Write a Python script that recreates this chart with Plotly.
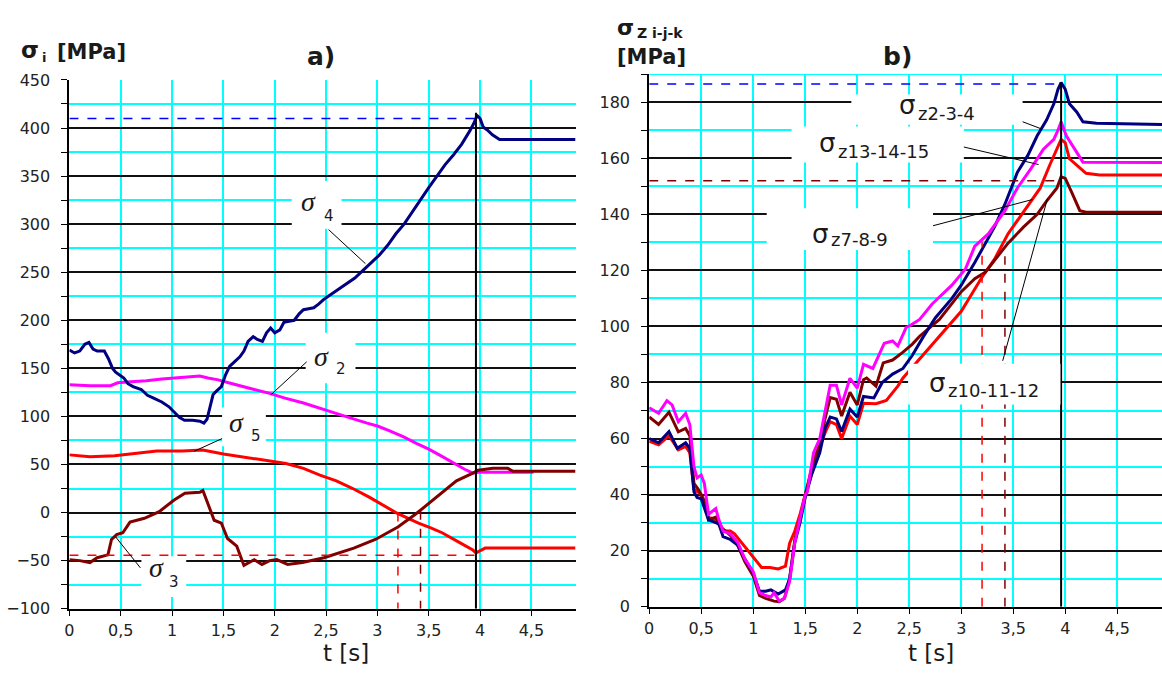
import plotly.graph_objects as go

W, H = 1162, 677

# ---------------- chart a) data ----------------
t_a4 = [0, 0.05, 0.1, 0.15, 0.19, 0.23, 0.27, 0.34, 0.38, 0.42, 0.45, 0.5, 0.53, 0.57, 0.62, 0.7, 0.76,
        0.82, 0.9, 0.97, 1.03, 1.07, 1.12, 1.2, 1.27, 1.31, 1.34, 1.37, 1.4, 1.44, 1.48, 1.52, 1.56, 1.61,
        1.66, 1.7, 1.74, 1.79, 1.83, 1.88, 1.92, 1.96, 2.0, 2.05, 2.09, 2.14, 2.19, 2.24, 2.28, 2.33, 2.38,
        2.43, 2.48, 2.55, 2.62, 2.7, 2.78, 2.86, 2.94, 3.02, 3.1, 3.18, 3.26, 3.34, 3.42, 3.5, 3.58, 3.66,
        3.74, 3.82, 3.9, 3.94, 3.97, 4.0, 4.03, 4.07, 4.12, 4.19, 4.93]
sig4 = [169, 166, 168, 175, 177, 170, 168, 168, 160, 150, 146, 142, 140, 134, 131, 128, 122,
        119, 115, 110, 104, 99, 96, 96, 95, 93, 97, 110, 123, 127, 131, 143, 152, 157,
        162, 168, 178, 183, 180, 178, 187, 192, 187, 190, 198, 199, 200, 207, 211, 212, 213,
        217, 222, 227, 232, 238, 244, 252, 260, 268, 278, 290, 300, 313, 325, 338, 350, 362,
        372, 383, 397, 405, 413, 410, 401, 398, 393, 388, 388]

t_a2 = [0, 0.2, 0.4, 0.47, 0.6, 0.75, 0.9, 1.0, 1.15, 1.27, 1.35, 1.45, 1.55, 1.65, 1.8, 1.95, 2.1,
        2.28, 2.45, 2.6, 2.75, 2.9, 3.0, 3.12, 3.25, 3.38, 3.5, 3.62, 3.73, 3.85, 3.93, 3.98, 4.1, 4.3, 4.52]
sig2 = [133, 132, 132, 135, 136, 137, 139, 140, 141, 142, 140, 138, 135, 132, 128, 124, 119,
        114, 108, 103, 98, 93, 90, 85, 79, 72, 66, 59, 52, 45, 41, 42, 42, 42, 42]

t_a5 = [0, 0.2, 0.44, 0.6, 0.85, 1.1, 1.3, 1.5, 1.79, 2.11, 2.28, 2.44, 2.6, 2.76, 2.92, 3.05, 3.18,
        3.3, 3.4, 3.52, 3.63, 3.78, 3.93, 3.96, 4.0, 4.05, 4.93]
sig5 = [60, 58, 59, 61, 64, 64, 65, 61, 56, 51, 46, 39, 33, 25, 16, 8, 0,
        -6, -11, -16, -21, -30, -39, -42, -40, -37, -37]

t_a3 = [0, 0.1, 0.2, 0.27, 0.375, 0.41, 0.46, 0.52, 0.59, 0.73, 0.875, 1.02, 1.125, 1.27, 1.3, 1.41,
        1.48, 1.54, 1.63, 1.7, 1.8, 1.875, 1.95, 2.02, 2.125, 2.2, 2.27, 2.48, 2.77, 2.98, 3.2, 3.38,
        3.55, 3.77, 3.93, 3.98, 4.125, 4.27, 4.32, 4.93]
sig3 = [-49, -50, -52, -47, -44, -28, -23, -21, -10, -6, 1, 13, 20, 21, 23, -8,
        -11, -27, -35, -55, -49, -54, -50, -49, -54, -53, -52, -47, -37, -28, -15, -1,
        14, 33, 41, 44, 46, 46, 43, 43]

# ---------------- chart b) data ----------------
t_b234 = [0, 0.09, 0.19, 0.27, 0.35, 0.39, 0.43, 0.46, 0.5, 0.57, 0.64, 0.67, 0.71, 0.78, 0.85, 0.92,
          1.0, 1.06, 1.12, 1.17, 1.24, 1.31, 1.35, 1.4, 1.45, 1.5, 1.56, 1.64, 1.69, 1.74, 1.8, 1.85,
          1.93, 2.0, 2.06, 2.16, 2.24, 2.34, 2.44, 2.53, 2.63, 2.75, 2.91, 3.0, 3.13, 3.23, 3.32, 3.42,
          3.54, 3.64, 3.73, 3.82, 3.89, 3.93, 3.96, 4.0, 4.04, 4.11, 4.17, 4.3, 4.93]
sz234 = [60, 58.5, 62.5, 56.5, 58.5, 56.5, 41, 39, 38.5, 31, 30, 29.5, 25, 24, 22, 17,
         12, 5.5, 5.5, 6, 4.5, 6, 10, 23, 30, 39, 47, 55, 63.5, 67.7, 67, 62.5,
         70.5, 67.7, 75, 74.5, 80, 83, 85, 89.7, 96, 103, 110, 114.7, 122.8, 129.7, 135.5, 143.6,
         155, 161, 168, 173.6, 179.4, 184.6, 187, 184.6, 179.4, 176.5, 173, 172.5, 172]

t_b131415 = [0, 0.09, 0.17, 0.22, 0.28, 0.35, 0.39, 0.43, 0.46, 0.5, 0.53, 0.57, 0.64, 0.67, 0.71, 0.78,
             0.85, 0.92, 1.0, 1.06, 1.12, 1.17, 1.2, 1.25, 1.3, 1.35, 1.4, 1.45, 1.5, 1.52, 1.58, 1.64,
             1.69, 1.74, 1.8, 1.85, 1.93, 2.0, 2.06, 2.15, 2.26, 2.34, 2.39, 2.47, 2.52, 2.6, 2.72, 2.91,
             3.04, 3.13, 3.26, 3.42, 3.54, 3.67, 3.79, 3.89, 3.93, 3.96, 4.01, 4.07, 4.17, 4.93]
sz131415 = [71, 69, 73.5, 72, 66, 69, 65, 50, 46, 47, 44, 33, 35, 31, 27, 26,
            23, 17, 12.5, 5, 4, 3.5, 5, 2, 3, 9, 23, 31, 40, 41, 55, 60,
            69, 79, 79, 72, 81.5, 78, 86.5, 85, 94, 94.8, 93, 99.6, 100.6, 102.5, 108, 114.7,
            120.5, 128.6, 133, 141.3, 149.4, 156.3, 163.2, 166.7, 170, 173, 168, 164.4, 158.6, 158.5]

t_b789 = [0, 0.09, 0.19, 0.28, 0.35, 0.39, 0.43, 0.47, 0.5, 0.54, 0.57, 0.64, 0.7, 0.78, 0.85, 0.92,
          1.0, 1.06, 1.12, 1.2, 1.25, 1.3, 1.35, 1.4, 1.45, 1.5, 1.58, 1.64, 1.69, 1.74, 1.8, 1.85,
          1.93, 2.0, 2.06, 2.09, 2.18, 2.25, 2.34, 2.44, 2.53, 2.6, 2.79, 3.0, 3.13, 3.23, 3.35, 3.45,
          3.6, 3.73, 3.82, 3.92, 3.96, 4.0, 4.06, 4.14, 4.2, 4.93]
sz789 = [67.7, 65, 69.4, 62.4, 63.6, 61, 44, 42, 40, 37, 31, 32, 28, 25.5, 22, 16,
         11, 4, 3, 2, 1.8, 3, 10, 24, 31, 40, 52, 58, 67, 74.6, 74, 68,
         76.5, 72, 81, 81.6, 78.7, 87, 88, 90.8, 93.7, 96.5, 102.5, 112.4, 117, 119.3, 125, 129.7,
         135.5, 140, 144.7, 149.4, 153.4, 152.8, 148, 141.3, 140.7, 140.7]

t_b101112 = [0, 0.09, 0.19, 0.28, 0.35, 0.39, 0.43, 0.47, 0.5, 0.57, 0.64, 0.71, 0.78, 0.82, 0.92, 1.0,
             1.08, 1.16, 1.24, 1.31, 1.35, 1.4, 1.45, 1.5, 1.58, 1.64, 1.69, 1.74, 1.8, 1.85, 1.93, 2.0,
             2.06, 2.18, 2.28, 2.39, 2.44, 2.59, 2.72, 2.88, 3.0, 3.19, 3.32, 3.45, 3.54, 3.67, 3.76, 3.85,
             3.93, 3.96, 4.0, 4.04, 4.11, 4.2, 4.33, 4.93]
sz101112 = [59, 57.8, 61, 56, 57.2, 55, 42, 41, 40, 32, 31, 27, 27, 26, 21.5, 18,
            14, 14, 13.5, 14.5, 22.7, 27, 33, 40, 50, 57, 62, 66, 65, 60, 68, 65,
            72.6, 72.4, 73.6, 78.7, 81.6, 88, 93.7, 100.6, 105.4, 117, 124, 133, 137.8, 144.7, 149.4, 157.5,
            164.4, 166.7, 165.5, 159.8, 157.5, 154.6, 154, 154]

# reference values marked on the charts
t_peak = 3.96
a_peak4, a_level, a_t5zero, a_t3zero = 410, -44.5, 3.2, 3.42
b_peak234, b_peak789, b_t_red, b_t_mar, b_top_red, b_top_mar = 186.5, 152, 3.2, 3.42, 130, 125

# ticks (decimal comma comes from layout.separators)
x_tickvals = [0, 0.5, 1, 1.5, 2, 2.5, 3, 3.5, 4, 4.5]
ya_tickvals = [-100, -50, 0, 50, 100, 150, 200, 250, 300, 350, 400, 450]
yb_tickvals = [0, 20, 40, 60, 80, 100, 120, 140, 160, 180]

# curve labels: (sigma-x, sigma-y, subscript, sub-left-x, sub-y)
labels_a = [(305, 198, "4", 318, 213), (318, 358, "2", 330, 370), (233, 425, "5", 245, 439),
            (152, 575, "3", 163, 590)]
labels_b = [(906, 99, "z2-3-4", 915, 108), (826, 138, "z13-14-15", 835, 147),
            (819, 231, "z7-8-9", 828, 237), (936, 385, "z10-11-12", 945, 393)]
# white label boxes (x0, y0, x1, y1) in pixels
boxes = [(288, 177, 338, 226), (302, 333, 352, 385), (218, 410, 262, 450), (137, 563, 182, 605),
         (850, 88, 1022, 119), (790, 121, 963, 158), (765, 205, 932, 248), (907, 365, 1060, 407)]
leaders = [(325, 227, 362, 262), (303, 363, 267, 397), (218, 442, 190, 455), (111, 543, 136, 575),
           (1022, 116, 1040, 123), (963, 142, 1038, 160), (932, 223, 1032, 196), (1002, 362, 1047, 195)]

NAVY, MAG, RED, MAR = "#000080", "#FF00FF", "#FF0000", "#800000"
CYAN = "#00FFFF"
TXT = "#1a1a1a"
TICKFONT = dict(family="DejaVu Sans", size=16, color="#222")


def PX(p):
    return p / W


def PY(p):
    return 1 - p / H


fig = go.Figure()


def line(x, y, color, xa, ya):
    fig.add_trace(go.Scatter(x=x, y=y, mode="lines", line=dict(color=color, width=3),
                             xaxis=xa, yaxis=ya, hoverinfo="skip", showlegend=False))


line(t_a2, sig2, MAG, "x", "y")
line(t_a5, sig5, RED, "x", "y")
line(t_a3, sig3, MAR, "x", "y")
line(t_a4, sig4, NAVY, "x", "y")

line(t_b101112, sz101112, RED, "x2", "y2")
line(t_b789, sz789, MAR, "x2", "y2")
line(t_b234, sz234, NAVY, "x2", "y2")
line(t_b131415, sz131415, MAG, "x2", "y2")

xcommon = dict(range=[0, 4.93], tickmode="array", tickvals=x_tickvals, showgrid=True,
               gridcolor=CYAN, gridwidth=2, showline=True, linecolor="black", linewidth=2,
               ticks="outside", ticklen=5, tickcolor="black", tickfont=TICKFONT, zeroline=False,
               ticklabelstandoff=1)
ycommon = dict(tickmode="array", showgrid=True, gridcolor="#111", gridwidth=1.5, zeroline=False,
               showline=True, linecolor="black", linewidth=2, ticks="outside", ticklen=6,
               tickcolor="black", tickfont=TICKFONT, ticklabelstandoff=8)

fig.update_layout(
    width=W, height=H, margin=dict(l=0, r=0, t=0, b=0), separators=", ",
    paper_bgcolor="white", plot_bgcolor="white", showlegend=False,
    xaxis=dict(domain=[PX(64.7), PX(573)], anchor="y", **xcommon),
    xaxis2=dict(domain=[PX(647), 1.0], anchor="y2", **xcommon),
    yaxis=dict(domain=[PY(617), PY(73)], anchor="x", range=[-100, 450], tickvals=ya_tickvals,
               minor=dict(dtick=25, showgrid=True, gridcolor=CYAN, gridwidth=2,
                          ticks="outside", ticklen=6, tickcolor="black"), **ycommon),
    yaxis2=dict(domain=[PY(615), PY(67)], anchor="x2", range=[0, 190], tickvals=yb_tickvals,
                minor=dict(dtick=10, showgrid=True, gridcolor=CYAN, gridwidth=2,
                           ticks="outside", ticklen=6, tickcolor="black"), **ycommon),
)

shapes = []


def dline(xa, ya, x0, y0, x1, y1, color, dash="dash", width=1.5):
    shapes.append(dict(type="line", xref=xa, yref=ya, x0=x0, y0=y0, x1=x1, y1=y1,
                       line=dict(color=color, width=width, dash=dash)))


dline("x2", "y2", 0, 190, 4.93, 190, CYAN, dash="solid", width=2)
dline("x", "y", 0, a_peak4, t_peak, a_peak4, "#0000FF")
dline("x", "y", 0, a_level, t_peak, a_level, RED)
dline("x", "y", a_t5zero, 0, a_t5zero, -100, RED)
dline("x", "y", a_t3zero, 2, a_t3zero, -100, MAR)
dline("x", "y", t_peak, -100, t_peak, 416, "black", dash="solid", width=2)
dline("x2", "y2", 0, b_peak234, t_peak, b_peak234, "#0000FF")
dline("x2", "y2", 0, b_peak789, t_peak, b_peak789, MAR)
dline("x2", "y2", b_t_red, 0, b_t_red, b_top_red, RED)
dline("x2", "y2", b_t_mar, 0, b_t_mar, b_top_mar, MAR)
dline("x2", "y2", t_peak, 0, t_peak, 187, "black", dash="solid", width=2)

for x0, y0, x1, y1 in boxes:
    shapes.append(dict(type="rect", xref="paper", yref="paper", x0=PX(x0), y0=PY(y1),
                       x1=PX(x1), y1=PY(y0), fillcolor="white", line=dict(width=0), layer="above"))
for x0, y0, x1, y1 in leaders:
    shapes.append(dict(type="line", xref="paper", yref="paper", x0=PX(x0), y0=PY(y0),
                       x1=PX(x1), y1=PY(y1), line=dict(color="black", width=1)))
fig.update_layout(shapes=shapes)

ann = []


def text(t, x, y, font, xanchor="center"):
    ann.append(dict(text=t, x=PX(x), y=PY(y), xref="paper", yref="paper", showarrow=False,
                    xanchor=xanchor, yanchor="middle", font=font))


f_sig_a = dict(family="Liberation Serif", size=28, color=TXT, style="italic")
f_sub_a = dict(family="DejaVu Sans", size=15, color=TXT)
for sx, sy, sub, bx, by in labels_a:
    text("σ", sx, sy, f_sig_a)
    text(sub, bx, by, f_sub_a, xanchor="left")

f_sig_b = dict(family="DejaVu Sans", size=26, color=TXT)
f_sub_b = dict(family="DejaVu Sans", size=18, color=TXT)
for sx, sy, sub, bx, by in labels_b:
    text("σ", sx, sy, f_sig_b)
    text(sub, bx, by, f_sub_b, xanchor="left")

# titles
text("σ", 25, 42, dict(family="DejaVu Sans", size=23, color=TXT, weight="bold"))
text("i", 35, 50, dict(family="DejaVu Sans", size=13, color=TXT, weight="bold"), xanchor="left")
text("[MPa]", 50, 44, dict(family="DejaVu Sans", size=21, color=TXT, weight="bold"), xanchor="left")
text("σ", 623, 19, dict(family="DejaVu Sans", size=22, color=TXT, weight="bold"))
text("Z i-j-k", 633, 25, dict(family="DejaVu Sans", size=14, color=TXT, weight="bold"), xanchor="left")
text("[MPa]", 613, 49, dict(family="DejaVu Sans", size=21, color=TXT, weight="bold"), xanchor="left")
text("a)", 317, 49, dict(family="DejaVu Sans", size=25, color=TXT, weight="bold"))
text("b)", 896, 49, dict(family="DejaVu Sans", size=25, color=TXT, weight="bold"))
for cx in (342, 930):
    text("t [s]", cx, 663, dict(family="DejaVu Sans", size=23, color=TXT))
fig.update_layout(annotations=ann)

fig.write_html("out.html")
